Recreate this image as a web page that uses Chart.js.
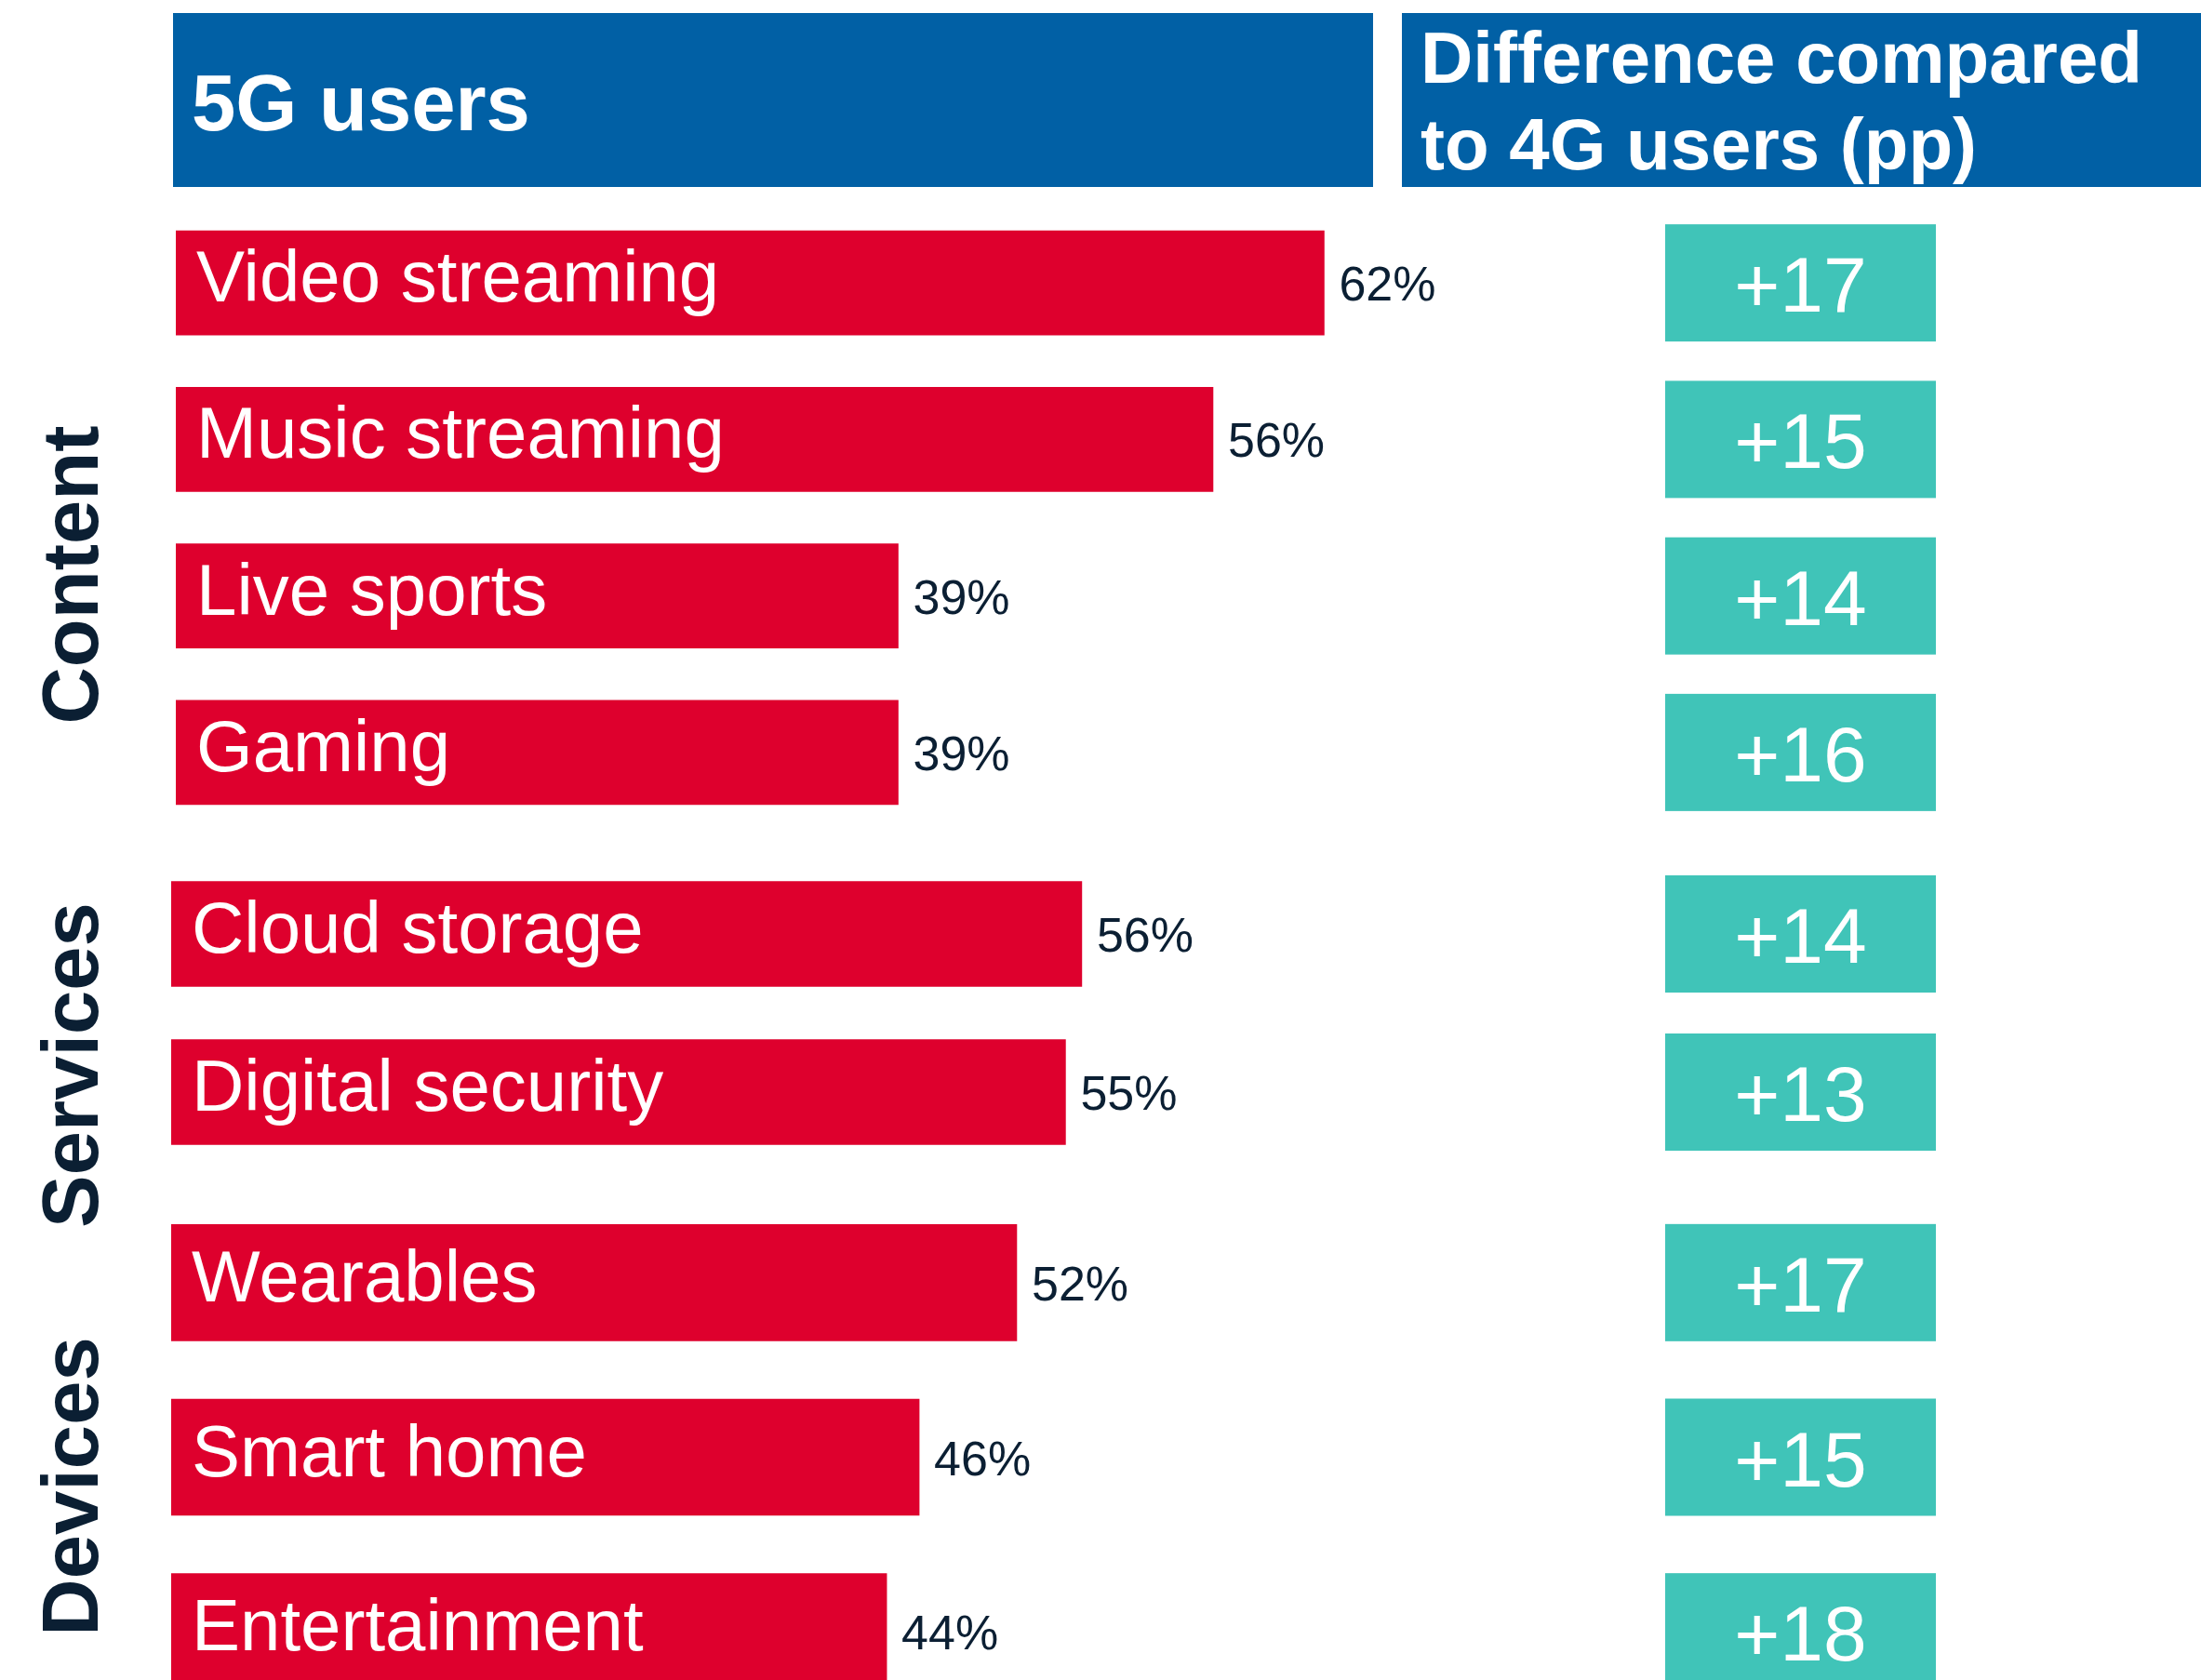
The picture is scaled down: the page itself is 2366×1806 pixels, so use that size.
<!DOCTYPE html>
<html>
<head>
<meta charset="utf-8">
<title>5G users vs 4G users</title>
<script src="https://cdn.jsdelivr.net/npm/chart.js@4.4.1/dist/chart.umd.min.js"></script>
<style>
  html, body { margin: 0; padding: 0; background: #fff; overflow: hidden; }
  body { position: relative; width: 2366px; height: 1806px; font-family: "Liberation Sans", Arial, sans-serif; }
  .header { position: absolute; top: 14px; height: 187px; background: #0160a5; color: #fff; font-weight: bold; overflow: hidden; }
  .header span { position: absolute; white-space: nowrap; }
  #head-5g { left: 186px; width: 1290px; }
  #head-5g span { left: 20px; top: 54px; font-size: 85px; line-height: 85px; }
  #head-diff { left: 1507px; width: 859px; }
  #head-diff span { left: 20px; top: 2px; font-size: 78px; line-height: 93px; }
  canvas { position: absolute; left: 0; top: 0; }
</style>
</head>
<body>
<div class="header" id="head-5g"><span>5G users</span></div>
<div class="header" id="head-diff"><span>Difference compared<br>to 4G users (pp)</span></div>
<canvas id="chart-content" width="2366" height="1900"></canvas>
<canvas id="chart-services" width="2366" height="1900"></canvas>
<canvas id="chart-devices" width="2366" height="1900"></canvas>
<script>
// Donnees
const contentLabels = ["Video streaming", "Music streaming", "Live sports", "Gaming"];
const contentShare = [62, 56, 39, 39];
const contentDiff = [17, 15, 14, 16];

const servicesLabels = ["Cloud storage", "Digital security"];
const servicesShare = [56, 55];
const servicesDiff = [14, 13];

const devicesLabels = ["Wearables", "Smart home", "Entertainment"];
const devicesShare = [52, 46, 44];
const devicesDiff = [17, 15, 18];

(function () {
  "use strict";

  const FONT = "'Liberation Sans', Arial, sans-serif";
  const RED = "#de002d";
  const TEAL = "#40c4b8";
  const NAVY = "#0b1f33";

  // Libelles, valeurs et cases "difference" dessines autour des barres
  const groupDecor = {
    id: "groupDecor",
    afterDatasetsDraw(chart, args, opts) {
      const ctx = chart.ctx;
      const meta = chart.getDatasetMeta(0);
      const values = chart.data.datasets[0].data;
      ctx.save();

      meta.data.forEach((bar, i) => {
        const yc = bar.y;

        ctx.fillStyle = "#fff";
        ctx.font = `78px ${FONT}`;
        ctx.textAlign = "left";
        ctx.textBaseline = "alphabetic";
        ctx.fillText(chart.data.labels[i], bar.base + 22, yc + 20);

        ctx.fillStyle = NAVY;
        ctx.font = `52px ${FONT}`;
        ctx.fillText(`${values[i]}%`, bar.x + 16, yc + 19);

        ctx.fillStyle = TEAL;
        ctx.fillRect(opts.boxLeft, yc - 63, opts.boxWidth, 126);
        ctx.fillStyle = "#fff";
        ctx.font = `84px ${FONT}`;
        ctx.textAlign = "center";
        ctx.fillText(`+${opts.diffs[i]}`, opts.boxLeft + opts.boxWidth / 2, yc + 31);
      });

      // Titre du groupe, vertical
      ctx.translate(105, opts.titleY);
      ctx.rotate(-Math.PI / 2);
      ctx.fillStyle = NAVY;
      ctx.font = `bold 85px ${FONT}`;
      ctx.textAlign = "center";
      ctx.textBaseline = "alphabetic";
      ctx.fillText(opts.title, 0, 0);
      ctx.restore();
    },
  };

  function renderGroup(canvasId, labels, share, diffs, cfg) {
    const canvas = document.getElementById(canvasId);
    return new Chart(canvas, {
      type: "bar",
      data: {
        labels: labels,
        datasets: [
          {
            data: share,
            backgroundColor: RED,
            borderWidth: 0,
            barThickness: cfg.thickness,
          },
        ],
      },
      options: {
        indexAxis: "y",
        responsive: false,
        animation: false,
        events: [],
        layout: { padding: cfg.padding },
        scales: {
          x: { display: false, min: 0, max: 100 },
          y: { display: false },
        },
        plugins: {
          legend: { display: false },
          tooltip: { enabled: false },
          groupDecor: {
            title: cfg.title,
            titleY: cfg.titleY,
            diffs: diffs,
            boxLeft: 1790,
            boxWidth: 291,
          },
        },
      },
      plugins: [groupDecor],
    });
  }

  renderGroup("chart-content", contentLabels, contentShare, contentDiff, {
    title: "Content",
    titleY: 618,
    thickness: 112,
    padding: { left: 189, right: 186, top: 220, bottom: 1007 },
  });

  renderGroup("chart-services", servicesLabels, servicesShare, servicesDiff, {
    title: "Services",
    titleY: 1145,
    thickness: 113,
    padding: { left: 184, right: 434, top: 919, bottom: 641 },
  });

  renderGroup("chart-devices", devicesLabels, devicesShare, devicesDiff, {
    title: "Devices",
    titleY: 1598,
    thickness: 125,
    padding: { left: 184, right: 434, top: 1285, bottom: 52 },
  });
})();
</script>
</body>
</html>
